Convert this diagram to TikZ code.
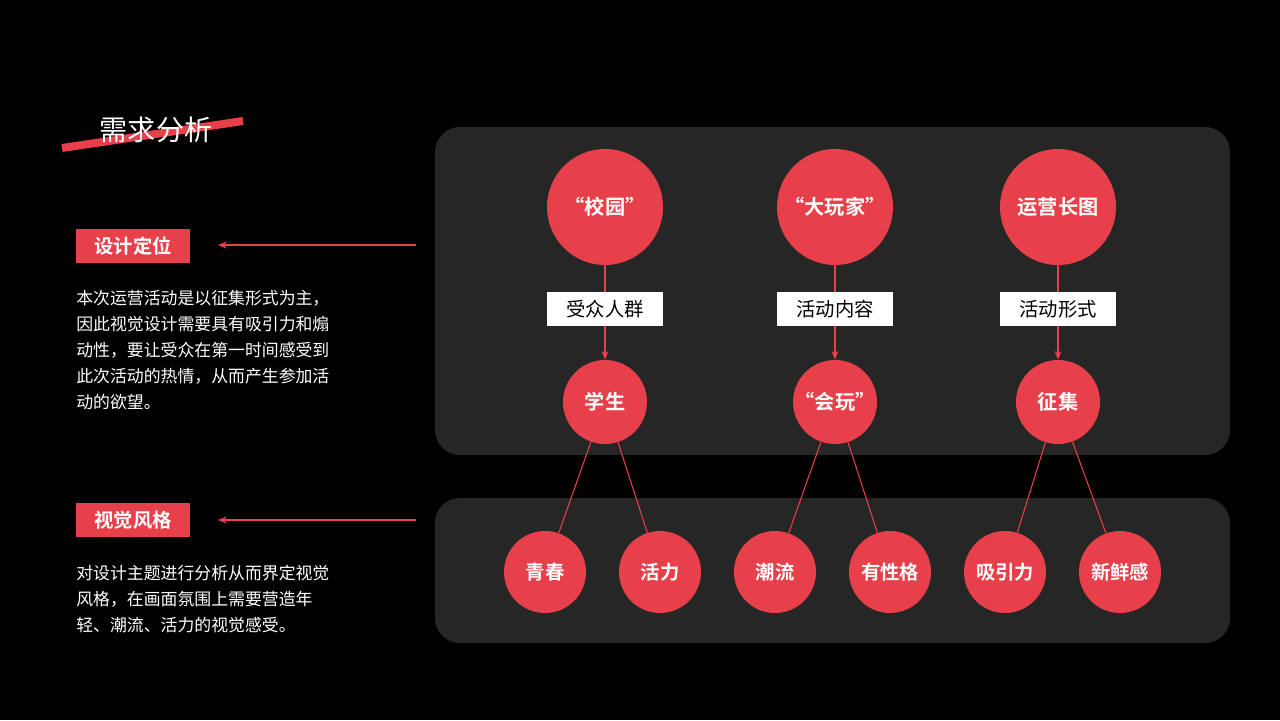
\documentclass[tikz,border=0pt]{standalone}
\usepackage{fontspec}
\setmainfont{Noto Sans CJK SC}
\newfontfamily\cjkb{Noto Sans CJK SC Bold}
\usetikzlibrary{arrows.meta}
\definecolor{rd}{HTML}{E8404A}
\definecolor{pnl}{HTML}{262626}
\begin{document}
\begin{tikzpicture}[x=0.02cm,y=-0.02cm,
  big/.style={circle,fill=rd,minimum size=116*0.02cm,inner sep=0,text=white,font=\cjkb\fontsize{11.5pt}{13pt}\selectfont},
  mid/.style={circle,fill=rd,minimum size=84*0.02cm,inner sep=0,text=white,font=\cjkb\fontsize{11.5pt}{13pt}\selectfont},
  sm/.style={circle,fill=rd,minimum size=82*0.02cm,inner sep=0,text=white,font=\cjkb\fontsize{11pt}{13pt}\selectfont},
  lab/.style={fill=white,minimum width=116*0.02cm,minimum height=34*0.02cm,inner sep=0,text=black,font=\fontsize{11pt}{13pt}\selectfont},
  tag/.style={fill=rd,minimum width=114*0.02cm,minimum height=34*0.02cm,inner sep=0,text=white,font=\cjkb\fontsize{11pt}{13pt}\selectfont},
  con/.style={rd,line width=0.6pt},
  arr/.style={con,-{Stealth[length=5pt,width=4pt]}},
  para/.style={anchor=north west,align=left,text=white,font=\fontsize{9.6pt}{14.8pt}\selectfont,inner sep=0}]
\fill[black] (0,0) rectangle (1280,720);
\useasboundingbox (0,0) rectangle (1280,720);
% title
\draw[rd,line width=8*0.567pt] (62,148) -- (243,121);
\node[text=white,font=\fontsize{16pt}{18pt}\selectfont] (title) at (156,130) {需求分析};
% left side
\node[tag] (t1) at (133,246) {设计定位};
\node[tag] (t2) at (133,520) {视觉风格};
\coordinate (a1) at (416,245);
\coordinate (a2) at (416,520);
\draw[arr] (a1) -- (218,245);
\draw[arr] (a2) -- (218,520);
\node[para] (p1) at (76,290) {本次运营活动是以征集形式为主，\\因此视觉设计需要具有吸引力和煽\\动性，要让受众在第一时间感受到\\此次活动的热情，从而产生参加活\\动的欲望。};
\node[para] (p2) at (76,565) {对设计主题进行分析从而界定视觉\\风格，在画面氛围上需要营造年\\轻、潮流、活力的视觉感受。};
% panels
\fill[pnl,rounded corners=0.5cm] (435,127) rectangle (1230,455);
\fill[pnl,rounded corners=0.5cm] (435,498) rectangle (1230,643);
% columns
\foreach \i/\x/\b/\l/\m in {1/605/“校园”/受众人群/学生,2/835/“大玩家”/活动内容/“会玩”,3/1058/运营长图/活动形式/征集}{
  \node[big] (b\i) at (\x,207) {\b};
  \node[lab] (l\i) at (\x,309) {\l};
  \node[mid] (m\i) at (\x,402) {\m};
  \draw[con] (b\i) -- (l\i);
  \draw[arr] (l\i) -- (m\i);
}
\foreach \j/\x/\t in {1/545/青春,2/660/活力,3/775/潮流,4/890/有性格,5/1005/吸引力,6/1120/新鲜感}{
  \node[sm] (s\j) at (\x,572) {\t};
}
\draw[con] (m1) -- (s1); \draw[con] (m1) -- (s2);
\draw[con] (m2) -- (s3); \draw[con] (m2) -- (s4);
\draw[con] (m3) -- (s5); \draw[con] (m3) -- (s6);
\end{tikzpicture}
\end{document}
